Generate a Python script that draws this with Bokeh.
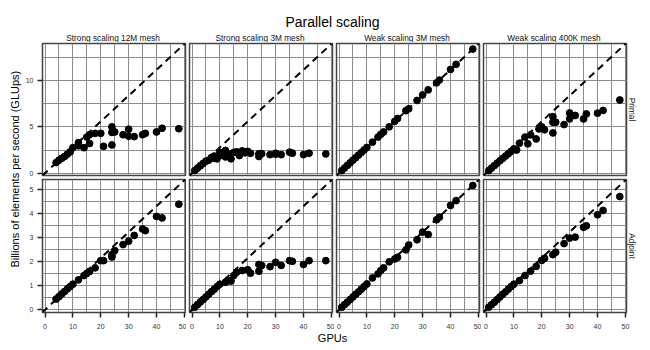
import math
from bokeh.plotting import figure
from bokeh.models import (GridPlot, Range1d, LinearAxis, Grid, SingleIntervalTicker,
                          Slope, Title, Label, ColumnDataSource)
from bokeh.embed import file_html
from bokeh.resources import INLINE

FONT = "Liberation Sans"

main_title = "Parallel scaling"
y_label = "Billions of elements per second (GLUps)"
x_label = "GPUs"
panel_titles = ["Strong scaling 12M mesh", "Strong scaling 3M mesh",
                "Weak scaling 3M mesh", "Weak scaling 400K mesh"]
row_labels = ["Primal", "Adjoint"]

# ideal (linear) scaling rate per GPU, GLUps
ideal_primal_rate = 0.279
ideal_adjoint_rate = 0.108

# ---- Strong scaling 12M mesh
gpus_s12_primal = [4, 5, 6, 7, 8, 9, 10, 12, 12, 14, 15, 16, 16, 18, 20, 21, 24, 24, 24, 25,
                   28, 30, 30, 32, 35, 36, 40, 42, 48]
primal_s12 = [1.15, 1.4, 1.6, 1.8, 2.05, 2.3, 2.75, 3.3, 2.95, 2.75, 3.9, 4.15, 3.2, 4.3, 4.3,
              2.9, 5.0, 4.4, 3.05, 4.45, 4.15, 4.75, 4.0, 3.95, 4.15, 4.3, 4.45, 4.85, 4.8]
gpus_s12_adjoint = [4, 5, 6, 7, 8, 9, 10, 12, 14, 15, 16, 18, 20, 21, 24, 24, 25, 28, 30, 32,
                    35, 36, 40, 42, 48]
adjoint_s12 = [0.45, 0.55, 0.66, 0.76, 0.87, 0.97, 1.07, 1.25, 1.43, 1.52, 1.6, 1.75, 2.05,
               2.05, 2.2, 2.3, 2.47, 2.72, 2.86, 3.1, 3.37, 3.3, 3.89, 3.83, 4.4]

# ---- Strong scaling 3M mesh
gpus_s3_primal = [1, 2, 3, 4, 5, 6, 7, 8, 8, 9, 10, 10, 12, 12, 14, 14, 15, 16, 17, 18, 19,
                  20, 21, 24, 24, 25, 28, 30, 30, 32, 35, 36, 40, 42, 48]
primal_s3 = [0.28, 0.55, 0.8, 1.05, 1.3, 1.4, 1.7, 1.85, 1.6, 1.55, 2.25, 1.9, 2.45, 1.75,
             1.55, 2.1, 2.25, 2.3, 1.9, 2.4, 2.2, 2.35, 2.15, 2.1, 1.8, 2.1, 2.0, 2.15, 2.05,
             2.0, 2.27, 2.16, 2.0, 2.16, 2.08]
gpus_s3_adjoint = [1, 2, 3, 4, 5, 6, 7, 8, 9, 10, 12, 13, 14, 15, 16, 18, 20, 21, 24, 24, 25,
                   28, 30, 32, 35, 36, 40, 42, 48]
adjoint_s3 = [0.11, 0.22, 0.33, 0.43, 0.54, 0.65, 0.76, 0.86, 0.97, 1.07, 1.15, 1.22, 1.2,
              1.43, 1.57, 1.64, 1.67, 1.53, 1.61, 1.89, 1.85, 1.8, 1.98, 1.85, 2.05, 2.02,
              1.89, 2.05, 2.05]

# ---- Weak scaling 3M mesh
gpus_w3 = [1, 2, 3, 4, 5, 6, 7, 8, 9, 10, 12, 14, 15, 16, 18, 20, 21, 24, 25, 28, 30, 32, 35,
           36, 40, 42, 48]
primal_w3 = [0.28, 0.56, 0.84, 1.12, 1.4, 1.67, 1.95, 2.23, 2.51, 2.78, 3.35, 3.9, 4.2, 4.45,
             5.0, 5.6, 5.9, 6.75, 6.95, 7.85, 8.45, 9.0, 9.75, 10.05, 11.2, 11.75, 13.4]
adjoint_w3 = [0.11, 0.22, 0.32, 0.43, 0.54, 0.65, 0.75, 0.86, 0.97, 1.08, 1.33, 1.5, 1.64,
              1.75, 2.0, 2.12, 2.19, 2.5, 2.7, 2.92, 3.24, 3.14, 3.75, 3.86, 4.35, 4.55, 5.18]

# ---- Weak scaling 400K mesh
gpus_w4_primal = [1, 2, 3, 4, 5, 6, 7, 8, 9, 10, 11, 12, 14, 15, 16, 18, 19, 20, 21, 24, 24,
                  24, 25, 28, 30, 30, 32, 35, 36, 40, 42, 48]
primal_w4 = [0.28, 0.55, 0.82, 1.08, 1.35, 1.6, 1.85, 2.1, 2.35, 2.63, 2.5, 3.24, 3.9, 3.17,
             4.14, 3.7, 4.78, 5.0, 4.68, 6.1, 5.5, 4.35, 5.5, 5.25, 6.5, 5.86, 6.23, 5.86, 6.4,
             6.48, 6.77, 7.9]
gpus_w4_adjoint = [1, 2, 3, 4, 5, 6, 7, 8, 9, 10, 12, 14, 16, 18, 20, 21, 24, 25, 28, 30, 32,
                   35, 36, 40, 42, 48]
adjoint_w4 = [0.11, 0.22, 0.32, 0.43, 0.54, 0.65, 0.75, 0.86, 0.97, 1.07, 1.22, 1.43, 1.61,
              1.81, 2.06, 2.15, 2.3, 2.4, 2.76, 2.99, 3.03, 3.44, 3.5, 3.96, 4.14, 4.72]

panel_data = [
    [(gpus_s12_primal, primal_s12), (gpus_s3_primal, primal_s3),
     (gpus_w3, primal_w3), (gpus_w4_primal, primal_w4)],
    [(gpus_s12_adjoint, adjoint_s12), (gpus_s3_adjoint, adjoint_s3),
     (gpus_w3, adjoint_w3), (gpus_w4_adjoint, adjoint_w4)],
]

x_limits = (-0.9, 50.4)
y_limits = [(-0.25, 14.0), (-0.11, 5.43)]
y_tick_step = [5, 1]
y_grid_step = [2.5, 0.5]
x_tick_step = 10
x_grid_step = 5
ideal_rates = [ideal_primal_rate, ideal_adjoint_rate]

FRAME_W = 143
FRAME_H = [132, 133]
GRID_COLOR = "#8a8a8a"

COL0_W = 22
LEFT_BORDER = 19
GAP = 4
TITLE_H = 42
TOP_BORDER = 1
BOTTOM_BORDER = 20
XLAB_H = 12
RIGHT_BORDER = 14


def panel(r, c):
    gx, gy = panel_data[r][c]
    top, left, last = r == 0, c == 0, c == 3
    p = figure(frame_width=FRAME_W, frame_height=FRAME_H[r],
               x_range=Range1d(*x_limits), y_range=Range1d(*y_limits[r]),
               x_axis_location=None, y_axis_location=None,
               toolbar_location=None, output_backend="svg", title=None,
               min_border_left=LEFT_BORDER if left else GAP // 2,
               min_border_right=RIGHT_BORDER if last else GAP // 2,
               min_border_top=TOP_BORDER if top else GAP // 2,
               min_border_bottom=GAP // 2 if top else BOTTOM_BORDER,
               outline_line_color="#444444", outline_line_width=1.5,
               background_fill_color="white", border_fill_color="white")
    p.grid.visible = False
    p.add_layout(Grid(dimension=0, ticker=SingleIntervalTicker(interval=x_grid_step, num_minor_ticks=0),
                      grid_line_color=GRID_COLOR, grid_line_width=1))
    p.add_layout(Grid(dimension=1, ticker=SingleIntervalTicker(interval=y_grid_step[r], num_minor_ticks=0),
                      grid_line_color=GRID_COLOR, grid_line_width=1))
    p.add_layout(Slope(gradient=ideal_rates[r], y_intercept=0, line_color="black",
                       line_width=2, line_dash="7 5"))
    src = ColumnDataSource(dict(x=gx, y=gy))
    p.scatter("x", "y", source=src, size=6.8, fill_color="black", line_color="black")

    def style(ax, standoff):
        ax.axis_line_color = None
        ax.major_tick_line_color = "#222222"
        ax.major_tick_line_width = 1.5
        ax.major_tick_out = 5
        ax.major_tick_in = 0
        ax.minor_tick_line_color = None
        ax.major_label_text_font = FONT
        ax.major_label_text_font_size = "7px"
        ax.major_label_text_color = "#333333"
        ax.major_label_standoff = standoff

    if left:
        ya = LinearAxis(ticker=SingleIntervalTicker(interval=y_tick_step[r], num_minor_ticks=0))
        style(ya, 4)
        p.add_layout(ya, "left")
    if not top:
        xa = LinearAxis(ticker=SingleIntervalTicker(interval=x_tick_step, num_minor_ticks=0))
        style(xa, 6)
        p.add_layout(xa, "below")
    if last:
        p.add_layout(Title(text=row_labels[r], align="center", text_font=FONT,
                           text_font_size="8.3px", text_font_style="normal",
                           text_color="#111111", standoff=0), "right")
    return p


def text_fig(w, h):
    f = figure(width=w, height=h, x_range=Range1d(0, w), y_range=Range1d(0, h),
               x_axis_location=None, y_axis_location=None, toolbar_location=None,
               output_backend="svg", title=None, min_border=0,
               outline_line_color=None, background_fill_color="white",
               border_fill_color="white")
    f.grid.visible = False
    return f


TOTAL_W = COL0_W + (LEFT_BORDER + FRAME_W + GAP // 2) + 2 * (GAP + FRAME_W) + \
    (GAP // 2 + FRAME_W + RIGHT_BORDER)
CENTER_X = 332

tf = text_fig(TOTAL_W, TITLE_H)
tf.add_layout(Label(x=CENTER_X, y=TITLE_H - 21, x_units="screen", text=main_title,
                    text_align="center", text_baseline="middle", text_font=FONT,
                    text_font_size="14px", text_color="black"))
for c, t in enumerate(panel_titles):
    cx = COL0_W + LEFT_BORDER + c * (FRAME_W + GAP) + FRAME_W / 2
    tf.add_layout(Label(x=cx, y=TITLE_H - 37.5, x_units="screen", text=t,
                        text_align="center", text_baseline="middle", text_font=FONT,
                        text_font_size="8.3px", text_color="#111111"))

YF_H = (TOP_BORDER + FRAME_H[0] + GAP // 2) + (GAP // 2 + FRAME_H[1] + BOTTOM_BORDER)
yf = text_fig(COL0_W, YF_H)
yf.add_layout(Label(x=14, y=YF_H - (177.5 - TITLE_H), text=y_label, angle=math.pi / 2,
                    text_align="center", text_baseline="middle", text_font=FONT,
                    text_font_size="11px", text_color="black"))

xf = text_fig(TOTAL_W, XLAB_H)
xf.add_layout(Label(x=CENTER_X, y=XLAB_H - 5.5, x_units="screen", text=x_label,
                    text_align="center", text_baseline="middle", text_font=FONT,
                    text_font_size="11px", text_color="black"))

children = [(tf, 0, 0, 1, 5), (yf, 1, 0, 2, 1), (xf, 3, 0, 1, 5)]
for r in range(2):
    for c in range(4):
        children.append((panel(r, c), r + 1, c + 1))

grid = GridPlot(children=children, toolbar_location=None, spacing=0)

open("out.html", "w").write(file_html(grid, INLINE))
